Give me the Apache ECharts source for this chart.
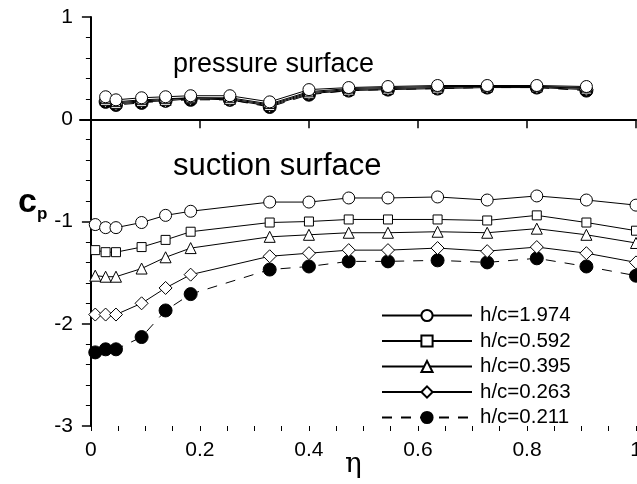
<!DOCTYPE html>
<html>
<head>
<meta charset="utf-8">
<script src="https://cdn.jsdelivr.net/npm/echarts@6/dist/echarts.min.js"></script>
<style>
  html, body { margin: 0; padding: 0; background: #fff; }
  #main { width: 637px; height: 484px; }
</style>
</head>
<body>
<div id="main"></div>
<script>
// 数据
var names = ['h/c=1.974', 'h/c=0.592', 'h/c=0.395', 'h/c=0.263', 'h/c=0.211'];
var symbols = ['circle', 'rect', 'triangle', 'diamond', 'circle'];
var symbolSizes = [12, 9, 11, 13, 13];

// suction surface
var etaS = [0.008, 0.027, 0.046, 0.093, 0.137, 0.183, 0.328, 0.4, 0.473, 0.545, 0.636, 0.727, 0.818, 0.909, 1.0];
var cpS = [
  [-1.03, -1.06, -1.06, -1.01, -0.94, -0.90, -0.81, -0.81, -0.77, -0.77, -0.76, -0.79, -0.75, -0.79, -0.84],
  [-1.28, -1.30, -1.30, -1.25, -1.18, -1.10, -1.01, -1.00, -0.98, -0.98, -0.98, -0.99, -0.94, -1.01, -1.09],
  [-1.53, -1.54, -1.54, -1.46, -1.35, -1.26, -1.15, -1.13, -1.11, -1.11, -1.10, -1.11, -1.07, -1.13, -1.21],
  [-1.91, -1.91, -1.91, -1.80, -1.65, -1.52, -1.34, -1.31, -1.28, -1.28, -1.26, -1.29, -1.25, -1.31, -1.40],
  [-2.28, -2.25, -2.25, -2.13, -1.87, -1.71, -1.47, -1.44, -1.39, -1.39, -1.38, -1.40, -1.36, -1.44, -1.53]
];

// pressure surface
var etaP = [0.027, 0.046, 0.093, 0.137, 0.183, 0.255, 0.328, 0.4, 0.473, 0.545, 0.636, 0.727, 0.818, 0.909];
var cpP = [
  [0.22, 0.19, 0.21, 0.22, 0.23, 0.23, 0.17, 0.29, 0.31, 0.32, 0.33, 0.33, 0.33, 0.32],
  [0.20, 0.17, 0.19, 0.20, 0.21, 0.21, 0.15, 0.27, 0.30, 0.31, 0.32, 0.32, 0.32, 0.31],
  [0.19, 0.16, 0.18, 0.19, 0.21, 0.20, 0.14, 0.26, 0.29, 0.30, 0.31, 0.32, 0.32, 0.30],
  [0.18, 0.15, 0.17, 0.18, 0.20, 0.19, 0.13, 0.25, 0.28, 0.29, 0.30, 0.31, 0.31, 0.29],
  [0.17, 0.14, 0.16, 0.18, 0.19, 0.19, 0.12, 0.24, 0.28, 0.29, 0.30, 0.31, 0.31, 0.28]
];

var xLabels = [0, 0.2, 0.4, 0.6, 0.8, 1];
var xMinor = [];
for (var k = 0; k <= 20; k++) xMinor.push(k * 0.05);

var font = 'Liberation Sans, Arial, sans-serif';

var myChart = echarts.init(document.getElementById('main'));

function pairs(xs, ys) {
  var res = [];
  for (var i = 0; i < xs.length; i++) res.push([xs[i], ys[i]]);
  return res;
}

var series = [];
for (var i = 0; i < names.length; i++) {
  var filled = i === 4;
  var base = {
    name: names[i],
    type: 'line',
    symbol: symbols[i],
    symbolSize: symbolSizes[i],
    showAllSymbol: true,
    lineStyle: { color: '#000', width: 1, type: filled ? [10, 9] : 'solid' },
    itemStyle: { color: filled ? '#000' : '#fff', borderColor: '#000', borderWidth: 1 },
    emphasis: { disabled: true },
    z: 10 - i,
    clip: false
  };
  series.push(Object.assign({}, base, { data: pairs(etaS, cpS[i]) }));
  series.push(Object.assign({}, base, { data: pairs(etaP, cpP[i]) }));
}

var option = {
  animation: false,
  backgroundColor: '#fff',
  grid: { left: 80, right: 1, top: 17, bottom: 58, outerBoundsMode: 'none' },
  legend: {
    data: names,
    orient: 'vertical',
    left: 376,
    top: 300,
    itemWidth: 90,
    itemHeight: 14,
    itemGap: 4.5,
    textStyle: { color: '#000', fontSize: 20.5, lineHeight: 14, fontFamily: font, padding: [0, 0, 0, 3] }
  },
  xAxis: [{
    type: 'value',
    min: -0.02,
    max: 1,
    splitLine: { show: false },
    axisLine: { lineStyle: { color: '#000', width: 2 } },
    axisTick: { customValues: xLabels, length: 9, lineStyle: { color: '#000', width: 1.5 } },
    axisLabel: { customValues: xLabels, color: '#000', fontSize: 21, fontFamily: font, margin: 14 }
  }, {
    type: 'value',
    min: -0.02,
    max: 1,
    position: 'bottom',
    splitLine: { show: false },
    axisLine: { show: false },
    axisTick: { customValues: xMinor, length: 5, lineStyle: { color: '#000', width: 1 } },
    axisLabel: { show: false }
  }],
  yAxis: {
    type: 'value',
    min: -3,
    max: 1,
    interval: 1,
    splitLine: { show: false },
    axisLine: { lineStyle: { color: '#000', width: 2 } },
    axisTick: { length: 9, lineStyle: { color: '#000', width: 1.5 } },
    minorTick: { show: true, splitNumber: 5, length: 5, lineStyle: { color: '#000', width: 1 } },
    minorSplitLine: { show: false },
    axisLabel: { color: '#000', fontSize: 21, fontFamily: font, margin: 7 }
  },
  graphic: [
    { type: 'text', left: 173, top: 51, style: { text: 'pressure surface', fontSize: 27, fontFamily: font, fill: '#000' } },
    { type: 'text', left: 173, top: 151, style: { text: 'suction surface', fontSize: 31, fontFamily: font, fill: '#000' } },
    { type: 'text', left: 345, top: 451, style: { text: 'η', fontSize: 28, fontFamily: 'DejaVu Serif, serif', fill: '#000' } },
    { type: 'text', left: 18, top: 186, style: {
        text: '{c|c}{p|p}',
        rich: {
          c: { fontSize: 34, fontWeight: 'bold', fontFamily: font, fill: '#000' },
          p: { fontSize: 17, fontWeight: 'bold', fontFamily: font, fill: '#000', padding: [22, 0, 0, 0] }
        }
      } }
  ],
  series: series
};

myChart.setOption(option);
window.addEventListener('resize', function() {
  myChart.resize();
});
</script>
</body>
</html>
